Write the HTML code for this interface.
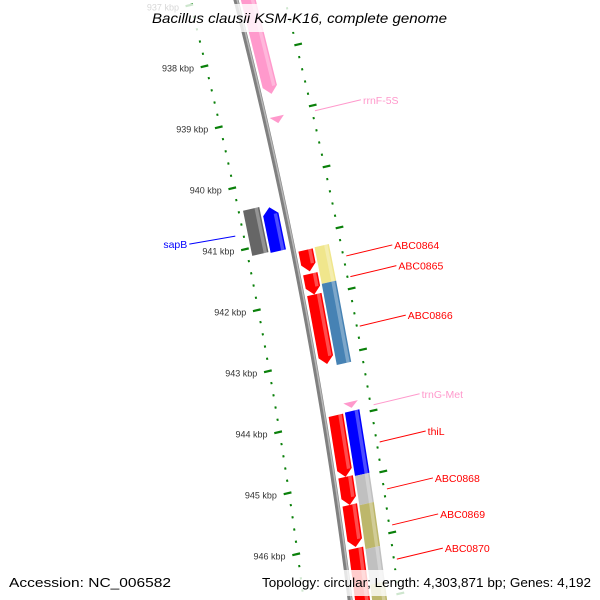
<!DOCTYPE html>
<html><head><meta charset="utf-8">
<style>
html,body{margin:0;padding:0;background:#fff;overflow:hidden}
svg{display:block;overflow:hidden}
text{font-family:"Liberation Sans","DejaVu Sans",sans-serif}
</style></head>
<body>
<svg id="map" width="600" height="600" viewBox="0 0 600 600" xmlns="http://www.w3.org/2000/svg">
<g id="ticks"></g>
<g id="backbone"></g>
<g id="genes"></g>
<g id="labels"></g>
<rect x="0" y="4" width="600" height="28" fill="#fff" fill-opacity="0.8"/>
<text x="152" y="23" textLength="295" lengthAdjust="spacingAndGlyphs" font-size="14" font-style="italic" fill="#000">Bacillus clausii KSM-K16, complete genome</text>
<rect x="0" y="570" width="600" height="26" fill="#fff" fill-opacity="0.8"/>
<text x="9" y="587" textLength="162" lengthAdjust="spacingAndGlyphs" font-size="13" fill="#000">Accession: NC_006582</text>
<text x="262" y="587" textLength="329" lengthAdjust="spacingAndGlyphs" font-size="13" fill="#000">Topology: circular; Length: 4,303,871 bp; Genes: 4,192</text>
</svg>
<script>
const tickStart = 936.8;
const tickEnd = 947.4;
const tickStep = 0.2;
const tickLabelKbp = [937,938,939,940,941,942,943,944,945,946];
// genes: [start kbp, end kbp]
const geneNames = ["pink-top","rrnF-5S","sapB-neighbor","sapB","ABC0864","ABC0865","ABC0866","ABC0864-cog","ABC0866-cog","trnG-Met","thiL","ABC0868","ABC0869","ABC0870","thiL-cog","ABC0868-cog","ABC0869-cog","ABC0870-cog","next-cog"];
const geneStart = [936.83,939.04,940.39,940.43,941.23,941.62,941.96,941.22,941.82,943.78,943.94,944.95,945.41,946.12,943.93,944.97,945.45,946.17,946.75];
const geneEnd =   [938.67,939.15,941.13,941.15,941.58,941.96,943.10,941.82,943.15,943.88,944.95,945.41,946.10,947.3,944.97,945.45,946.17,946.75,947.3];
const geneTrack = ["r1","r1","l2","l1","r1","r1","r1","r2","r2","r2","r1","r1","r1","r1","r2","r2","r2","r2","r2"];
const geneDir =   ["rev","tri","none","fwd","rev","rev","rev","none","none","tri","rev","rev","rev","rev","none","none","none","none","none"];
const geneColor = ["#ff99cc","#ff99cc","#666666","#0000ff","#ff0000","#ff0000","#ff0000","#f0e68c","#4682b4","#ff99cc","#ff0000","#ff0000","#ff0000","#ff0000","#0000ff","#c0c0c0","#bdb76b","#c0c0c0","#bdb76b"];
const labelText = ["rrnF-5S","sapB","ABC0864","ABC0865","ABC0866","trnG-Met","thiL","ABC0868","ABC0869","ABC0870"];
const labelColor = ["#ff99cc","#0000ff","#ff0000","#ff0000","#ff0000","#ff99cc","#ff0000","#ff0000","#ff0000","#ff0000"];
const labelKbp = [939.09,940.76,941.47,941.81,942.62,943.91,944.52,945.29,945.88,946.44];
const labelSide = [1,-1,1,1,1,1,1,1,1,1];

const NS="http://www.w3.org/2000/svg";
const tracks={l2:[-42,-25],l1:[-23,-7],r1:[5,20],r2:[22,37]};
function B(y){return 236+0.2556*y-0.000109*y*y;}
function pt(k,off){const y=55.7+61*(k-938)-0.22*off;return [B(y)+off,y];}
function mk(tag,attrs,parent){const e=document.createElementNS(NS,tag);for(const a in attrs)e.setAttribute(a,attrs[a]);parent.appendChild(e);return e;}

// backbone
const bb=document.getElementById('backbone');
let p1=[],p2=[];
for(let k=936.5;k<=947.6;k+=0.1){const a=pt(k,0);p1.push(a.join(','));const b=pt(k,1.2);p2.push(b.join(','));}
const bl=mk('polyline',{points:p1.join(' '),fill:'none',stroke:'#808080','stroke-width':5},bb);


const bl2=mk('polyline',{points:p2.join(' '),fill:'none',stroke:'#b8b8b8','stroke-width':1.5},bb);



// ticks
const tg=document.getElementById('ticks');
const n=Math.round((tickEnd-tickStart)/tickStep);
for(let i=0;i<=n;i++){
  const k=tickStart+i*tickStep;
  const major=Math.abs(k-Math.round(k))<0.01;
  const a=major?pt(k,-52):pt(k,-47.5), b=major?pt(k,-44):pt(k,-45.5);
  const t1=mk('line',{x1:a[0],y1:a[1],x2:b[0],y2:b[1],stroke:'#0a800a','stroke-width':2.2},tg);
  
  
  const c=major?pt(k,47):pt(k,48), d=major?pt(k,55):pt(k,50);
  const t2=mk('line',{x1:c[0],y1:c[1],x2:d[0],y2:d[1],stroke:'#0a800a','stroke-width':2.2},tg);
  
  
}
tickLabelKbp.forEach(k=>{
  const a=pt(k,-59);
  const t=mk('text',{x:a[0],y:a[1]+3,'text-anchor':'end','font-size':9,fill:'#333'},tg);
  t.textContent=k+' kbp';
  
  
});

// genes
const gg=document.getElementById('genes');
const AR=0.12;
for(let i=0;i<geneStart.length;i++){
  const [o1,o2]=tracks[geneTrack[i]];const om=(o1+o2)/2;
  const k1=geneStart[i],k2=geneEnd[i];let pts;
  if(geneDir[i]==='rev'){pts=[pt(k1,o1),pt(k1,o2),pt(k2-AR,o2),pt(k2,om),pt(k2-AR,o1)];}
  else if(geneDir[i]==='fwd'){pts=[pt(k1+AR,o1),pt(k1,om),pt(k1+AR,o2),pt(k2,o2),pt(k2,o1)];}
  else if(geneDir[i]==='tri'){pts=[pt(k1,o1),pt(k1,o2),pt(k2,om)];}
  else {pts=[pt(k1,o1),pt(k1,o2),pt(k2,o2),pt(k2,o1)];}
  const g=mk('polygon',{points:pts.map(p=>p.join(',')).join(' '),fill:geneColor[i]},gg);
  
  
  if(geneDir[i]!=='tri'){
    const ka=geneDir[i]==='fwd'?k1+AR:k1, kb=geneDir[i]==='rev'?k2-AR:k2;
    const hp=[pt(ka,o2-5),pt(ka,o2-1.5),pt(kb,o2-1.5),pt(kb,o2-5)];
    const h=mk('polygon',{points:hp.map(p=>p.join(',')).join(' '),fill:'#fff','fill-opacity':0.3},gg);
    
    
  }
}

// labels
const lg=document.getElementById('labels');
for(let i=0;i<labelText.length;i++){
  const s=labelSide[i];
  const a=pt(labelKbp[i],s>0?52:-55);
  const bx=a[0]+s*46, by=s>0?a[1]-11:a[1]+8;
  const l=mk('line',{x1:a[0],y1:a[1],x2:bx,y2:by,stroke:labelColor[i],'stroke-width':1},lg);
  
  
  const t=mk('text',{x:bx+s*2,y:by+4,'text-anchor':s>0?'start':'end','font-size':10.5,fill:labelColor[i]},lg);
  t.textContent=labelText[i];
  
  
}
</script>
</body></html>
